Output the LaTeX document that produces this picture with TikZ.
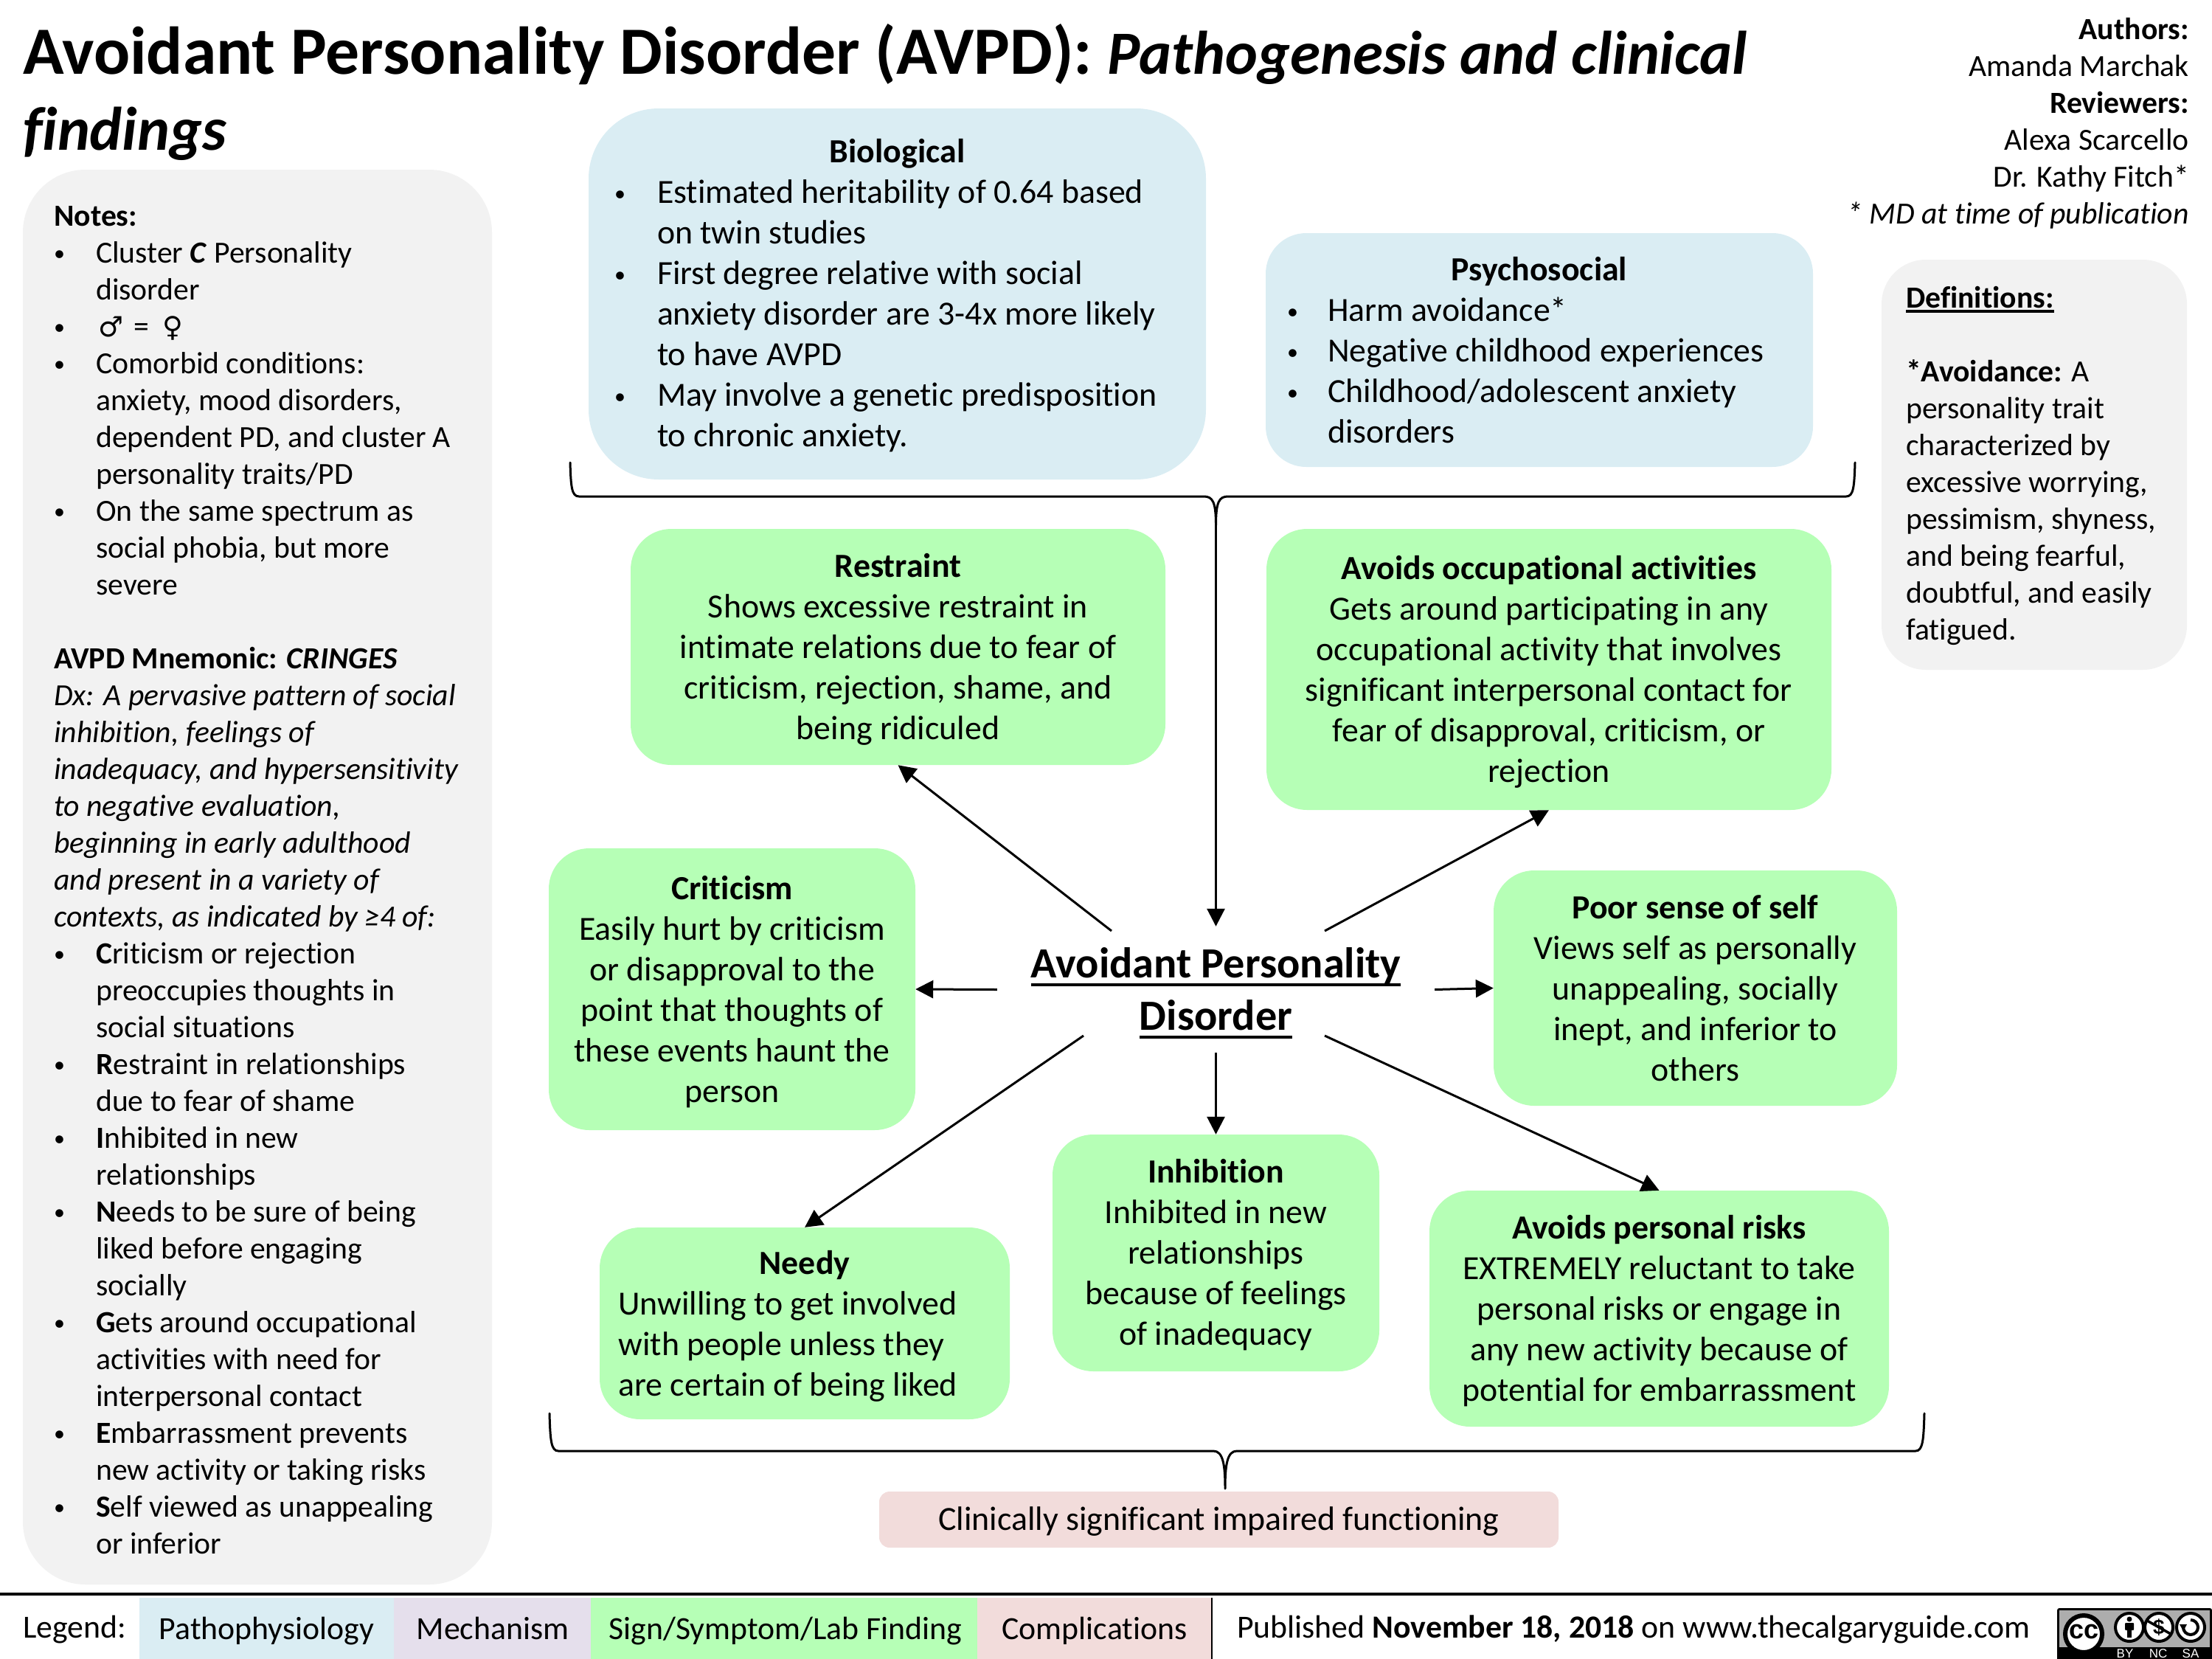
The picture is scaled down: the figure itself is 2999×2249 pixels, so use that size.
\documentclass[tikz,border=0pt]{standalone}
\usepackage{fontspec}
\setmainfont[Ligatures=NoCommon]{Carlito}
\newfontfamily\symf{DejaVu Sans}
\newfontfamily\logof{Liberation Sans}
\usetikzlibrary{arrows.meta,calc}
\definecolor{cblue}{HTML}{DAEDF3}
\definecolor{cpurple}{HTML}{E5DFEC}
\definecolor{cgreen}{HTML}{B6FFB6}
\definecolor{cpink}{HTML}{F2DCDB}
\definecolor{cgray}{HTML}{F2F2F2}
\newcommand{\fsA}{\fontsize{41.67}{50}\selectfont}
\newcommand{\fsB}{\fontsize{45.83}{55}\selectfont}
\newcommand{\fsT}{\fontsize{91.67}{103}\selectfont}
\newcommand{\fsTi}{\fontsize{83.33}{103}\selectfont}
\newcommand{\fsC}{\fontsize{58.33}{71}\selectfont}
\newcommand{\fsL}{\fontsize{43.75}{52}\selectfont}
\newcommand{\bul}{\raisebox{3pt}{\fontsize{30}{30}\selectfont •}}
\newcommand{\nbl}{\makebox[57pt][l]{\bul}}
\newcommand{\ind}{\hspace*{57pt}}
\newcommand{\bbl}{\makebox[58pt][l]{\bul}}
\newcommand{\bnd}{\hspace*{58pt}}
\newcommand{\fl}{\rule{0pt}{38pt}}
\newcommand{\ctr}[2]{\hbox to #1{\hfil #2\hfil}}
\newcommand{\ulin}[2]{\setbox0\hbox{#2}\rlap{\rule[-#1]{\wd0}{4.5pt}}\box0}
\tikzset{
  x=1pt,y=-1pt,
  boxn/.style={rounded corners=#1,inner sep=0pt,align=center,text=black},
  green box/.style={boxn=55pt,fill=cgreen,font=\fsB},
  link/.style={line width=3pt,-{Triangle[length=24pt,width=24pt]}},
  brace line/.style={line width=3pt,line cap=round},
  plain/.style={inner sep=0pt,font=\fsL}
}
\newcommand{\bx}[7]{% name, style, x0, y0, x1, y1, text
  \node[#2,minimum width=#5pt-#3pt,minimum height=#6pt-#4pt] (#1) at ({(#3+#5)/2},{(#4+#6)/2}) {#7};}
\begin{document}
\begin{tikzpicture}
\useasboundingbox (0,0) rectangle (2999,2249);

% Title
\node[inner sep=0pt,anchor=north west,align=left,font=\fsT\bfseries] (title) at (31,32)
 {Avoidant Personality Disorder (AVPD): {\fsTi\textit{Pathogenesis and clinical}}\\ {\fsTi\textit{findings}}};

% Authors
\node[inner sep=0pt,anchor=north east,align=right,font=\fsA] (authors) at (2968,24)
 {\textbf{Authors:}\\Amanda Marchak\\\textbf{Reviewers:}\\Alexa Scarcello\\Dr. Kathy Fitch*\\\textit{* MD at time of publication}};

% Notes
\bx{notes}{boxn=85pt,fill=cgray,font=\fsA}{31}{230}{667}{2148}{}
\node[inner sep=0pt,anchor=north west,align=left,font=\fsA] (notestext) at (73,279)
{\textbf{Notes:}\\
\nbl \textup{Cluster} \textbf{\textit{C}} Personality\\
\ind disorder\\
\nbl \hspace*{3pt}{\symf\fontsize{38}{50}\selectfont ♂}\hspace*{14pt}=\hspace*{18pt}{\symf\fontsize{38}{50}\selectfont ♀}\\
\nbl Comorbid conditions:\\
\ind anxiety, mood disorders,\\
\ind dependent PD, and cluster A\\
\ind personality traits/PD\\
\nbl On the same spectrum as\\
\ind social phobia, but more\\
\ind severe\\
\strut\\
\textbf{AVPD Mnemonic: \textit{CRINGES}}\\
\textit{Dx: A pervasive pattern of social}\\
\textit{inhibition, feelings of}\\
\textit{inadequacy, and hypersensitivity}\\
\textit{to negative evaluation,}\\
\textit{beginning in early adulthood}\\
\textit{and present in a variety of}\\
\textit{contexts, as indicated by ≥4 of:}\\
\nbl \textbf{C}riticism or rejection\\
\ind preoccupies thoughts in\\
\ind social situations\\
\nbl \textbf{R}estraint in relationships\\
\ind due to fear of shame\\
\nbl \textbf{I}nhibited in new\\
\ind relationships\\
\nbl \textbf{N}eeds to be sure of being\\
\ind liked before engaging\\
\ind socially\\
\nbl \textbf{G}ets around occupational\\
\ind activities with need for\\
\ind interpersonal contact\\
\nbl \textbf{E}mbarrassment prevents\\
\ind new activity or taking risks\\
\nbl \textbf{S}elf viewed as unappealing\\
\ind or inferior};

% Definitions
\bx{defs}{boxn=60pt,fill=cgray,font=\fsA}{2551}{352}{2965}{908}{}
\node[inner sep=0pt,anchor=north west,align=left,font=\fsA] (defstext) at (2584,388)
{\textbf{\ulin{7pt}{Definitions:}}\\
\strut\\
\textbf{*Avoidance:} A\\
personality trait\\
characterized by\\
excessive worrying,\\
pessimism, shyness,\\
and being fearful,\\
doubtful, and easily\\
fatigued.};

% Biological / Psychosocial
\bx{bio}{boxn=95pt,fill=cblue,font=\fsB,align=left}{798}{147}{1635}{650}{%
\rule{0pt}{36pt}\ctr{767pt}{\textbf{Biological}}\\
\bbl Estimated heritability of 0.64 based\\
\bnd on twin studies\\
\bbl First degree relative with social\\
\bnd anxiety disorder are 3-4x more likely\\
\bnd to have AVPD\\
\bbl May involve a genetic predisposition\\
\bnd to chronic anxiety.}
\bx{psy}{boxn=55pt,fill=cblue,font=\fsB,align=left}{1716}{316}{2458}{633}{%
\ctr{684pt}{\textbf{Psychosocial}}\\
\makebox[55pt][l]{\bul}Harm avoidance*\\
\makebox[55pt][l]{\bul}Negative childhood experiences\\
\makebox[55pt][l]{\bul}Childhood/adolescent anxiety\\
\hspace*{55pt}disorders}

% Findings
\bx{restraint}{green box}{855}{717}{1580}{1037}{\fl\textbf{Restraint}\\Shows excessive restraint in\\intimate relations due to fear of\\criticism, rejection, shame, and\\being ridiculed}
\bx{occup}{green box}{1717}{717}{2483}{1098}{\fl\textbf{Avoids occupational activities}\\Gets around participating in any\\occupational activity that involves\\significant interpersonal contact for\\fear of disapproval, criticism, or\\rejection}
\bx{crit}{green box}{744}{1150}{1241}{1532}{\rule{0pt}{40pt}\textbf{Criticism}\\Easily hurt by criticism\\or disapproval to the\\point that thoughts of\\these events haunt the\\person}
\bx{poor}{green box}{2025}{1180}{2572}{1499}{\textbf{Poor sense of self}\\Views self as personally\\unappealing, socially\\inept, and inferior to\\others}
\bx{needy}{green box,align=left}{813}{1664}{1369}{1924}{\rule{0pt}{40pt}\ctr{505pt}{\textbf{Needy}}\\Unwilling to get involved\\with people unless they\\are certain of being liked}
\bx{inhib}{green box}{1427}{1538}{1870}{1859}{\fl\textbf{Inhibition}\\Inhibited in new\\relationships\\because of feelings\\of inadequacy}
\bx{risks}{green box}{1938}{1614}{2561}{1934}{\fl\textbf{Avoids personal risks}\\EXTREMELY reluctant to take\\personal risks or engage in\\any new activity because of\\potential for embarrassment}
\bx{impair}{boxn=14pt,fill=cpink,font=\fsB}{1192}{2022}{2113}{2098}{\rule{0pt}{37pt}Clinically significant impaired functioning}

% Centre
\bx{center}{inner sep=0pt,align=center,font=\fsC\bfseries}{1352}{1256}{1945}{1427}{\rule{0pt}{50pt}\ulin{12pt}{Avoidant Personality}\\\ulin{12pt}{Disorder}}
\coordinate (cnw) at (1507,1262);
\coordinate (cne) at (1796,1262);
\coordinate (csw) at (1469,1404);
\coordinate (cse) at (1796,1404);

% Braces
\coordinate (topTip) at (1648.5,712);
\draw[brace line] (773,627) .. controls (774,660) and (775,673) .. (785,673)
  -- (1632,673) .. controls (1644,673) and (1648.5,680) .. (topTip)
  (2515,627) .. controls (2514,660) and (2513,673) .. (2503,673)
  -- (1665,673) .. controls (1653,673) and (1648.5,680) .. (topTip);
\coordinate (botTip) at (1661,2018);
\draw[brace line] (745,1916) .. controls (746,1952) and (747,1967) .. (757,1967)
  -- (1645,1967) .. controls (1658,1967) and (1661,1985) .. (botTip)
  (2609,1916) .. controls (2608,1952) and (2607,1967) .. (2597,1967)
  -- (1677,1967) .. controls (1664,1967) and (1661,1985) .. (botTip);

% Arrows
\draw[link] (topTip) -- (center.north);
\draw[link] (cnw) -- (restraint.south);
\draw[link] (cne) -- (occup.south);
\draw[link] (center.west) -- (crit.east);
\draw[link] (center.east) -- (poor.west);
\draw[link] (csw) -- (needy.north);
\draw[link] (center.south) -- (inhib.north);
\draw[link] (cse) -- (risks.north);

% Legend
\draw[line width=3.5pt] (0,2161) -- (2999,2161);
\node[plain,anchor=base west] (legend) at (31,2220) {Legend:};
\path[fill=cblue] (189,2166) rectangle (534,2249);
\path[fill=cpurple] (534,2166) rectangle (801,2249);
\path[fill=cgreen] (801,2166) rectangle (1325,2249);
\path[fill=cpink] (1325,2166) rectangle (1643,2249);
\draw[line width=2pt] (1643,2166) -- (1643,2249);
\node[plain,anchor=base] (l1) at (361.5,2222) {Pathophysiology};
\node[plain,anchor=base] (l2) at (668,2222) {Mechanism};
\node[plain,anchor=base] (l3) at (1065,2222) {Sign/Symptom/Lab Finding};
\node[plain,anchor=base] (l4) at (1484,2222) {Complications};
\node[plain,anchor=base west] (pub) at (1677,2220) {Published \textbf{November 18, 2018} on www.thecalgaryguide.com};

% CC logo
\path[fill=black,rounded corners=3pt] (2789,2180) rectangle (2999,2249);
\path[fill=black!32] (2792,2183) rectangle (2996,2233);
\path[fill=black] (2789,2233) rectangle (2999,2249);
\draw[line width=6pt,fill=white] (2825,2215) circle (25);
\node[inner sep=0pt,font=\logof\bfseries\fontsize{36}{36}\selectfont] (lcc) at (2825,2212) {cc};
\draw[line width=4pt,fill=white] (2887,2206) circle (19);
\fill (2887,2195) circle (3.5);
\fill[rounded corners=1pt] (2881,2200) rectangle (2893,2210);
\fill (2884,2208) rectangle (2890,2220);
\draw[line width=4pt,fill=white] (2927,2206) circle (19);
\node[inner sep=0pt,font=\logof\bfseries\fontsize{28}{28}\selectfont] (ldol) at (2927,2206) {\$};
\draw[line width=3.5pt] (2911,2197) -- (2943,2215);
\draw[line width=4pt,fill=white] (2970,2206) circle (19);
\draw[line width=4pt] (2960,2206) arc[start angle=180,end angle=-90,radius=10];
\fill (2955,2202) -- (2965,2202) -- (2960,2211) -- cycle;
\node[inner sep=0pt,text=white,font=\logof\fontsize{17}{17}\selectfont] (lby) at (2881,2242) {BY};
\node[inner sep=0pt,text=white,font=\logof\fontsize{17}{17}\selectfont] (lnc) at (2926,2242) {NC};
\node[inner sep=0pt,text=white,font=\logof\fontsize{17}{17}\selectfont] (lsa) at (2970,2242) {SA};
\end{tikzpicture}
\end{document}
